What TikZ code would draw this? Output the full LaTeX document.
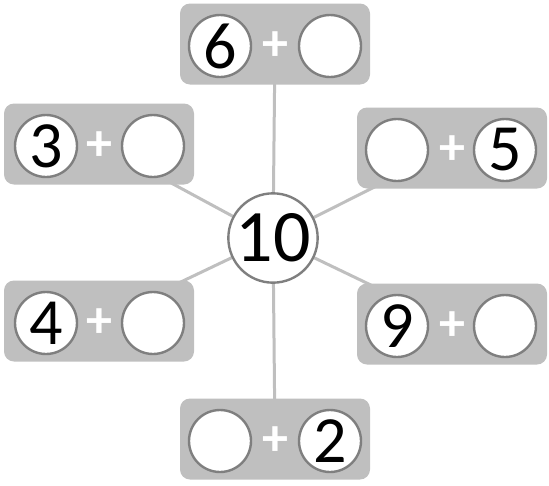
\documentclass[tikz,border=0pt]{standalone}
\usepackage{fontspec}
\setmainfont{Carlito}
\usetikzlibrary{positioning,backgrounds}
\definecolor{boxgray}{HTML}{BFBFBF}
\definecolor{rimgray}{HTML}{7F7F7F}

\begin{document}
\begin{tikzpicture}[x=1pt, y=-1pt,
  pair/.style={rectangle, fill=boxgray, minimum width=190pt, minimum height=81pt, rounded corners=10pt},
  slot/.style={circle, draw=rimgray, line width=2.4pt, fill=white, minimum size=62pt, inner sep=0pt, font=\fontsize{66}{66}\selectfont},
  hub/.style={slot, minimum size=84pt, font=\fontsize{74}{74}\selectfont},
  plus/.style={text=white, inner sep=0pt, font=\bfseries\fontsize{52}{52}\selectfont},
  spoke/.style={draw=boxgray, line width=3pt}]
  \useasboundingbox (0,0) rectangle (549,485);
  % the six sums
  \node[pair] (top) at (275,44) {};
  \node[pair] (upL) at (99,144) {};
  \node[pair] (upR) at (452,148) {};
  \node[pair] (lowL) at (99,321) {};
  \node[pair] (lowR) at (452,324) {};
  \node[pair] (bot) at (275,439) {};
  \node[slot] (topA) at ([xshift=-55pt,yshift=-2pt]top.center) {6};
  \node[plus] (topP) at ([yshift=-2pt]top.center) {+};
  \node[slot] (topB) at ([xshift=55pt,yshift=-2pt]top.center) {};
  \node[slot] (upLA) at ([xshift=-53pt,yshift=-2pt]upL.center) {3};
  \node[plus] (upLP) at ([yshift=-2pt]upL.center) {+};
  \node[slot] (upLB) at ([xshift=54pt,yshift=-2pt]upL.center) {};
  \node[slot] (upRA) at ([xshift=-55pt,yshift=-2pt]upR.center) {};
  \node[plus] (upRP) at ([yshift=-2pt]upR.center) {+};
  \node[slot] (upRB) at ([xshift=53pt,yshift=-2pt]upR.center) {5};
  \node[slot] (lowLA) at ([xshift=-53pt,yshift=-2pt]lowL.center) {4};
  \node[plus] (lowLP) at ([yshift=-2pt]lowL.center) {+};
  \node[slot] (lowLB) at ([xshift=54pt,yshift=-2pt]lowL.center) {};
  \node[slot] (lowRA) at ([xshift=-55pt,yshift=-2pt]lowR.center) {9};
  \node[plus] (lowRP) at ([yshift=-2pt]lowR.center) {+};
  \node[slot] (lowRB) at ([xshift=53pt,yshift=-2pt]lowR.center) {};
  \node[slot] (botA) at ([xshift=-55pt,yshift=-2pt]bot.center) {};
  \node[plus] (botP) at ([yshift=-2pt]bot.center) {+};
  \node[slot] (botB) at ([xshift=55pt,yshift=-2pt]bot.center) {2};
  % centre
  \node[hub] (ten) at (273,238) {10};
  \begin{pgfonlayer}{background}
    \foreach \b in {top,upL,upR,lowL,lowR,bot}
      \draw[spoke] (ten.center) -- (\b.center);
  \end{pgfonlayer}
\end{tikzpicture}
\end{document}
